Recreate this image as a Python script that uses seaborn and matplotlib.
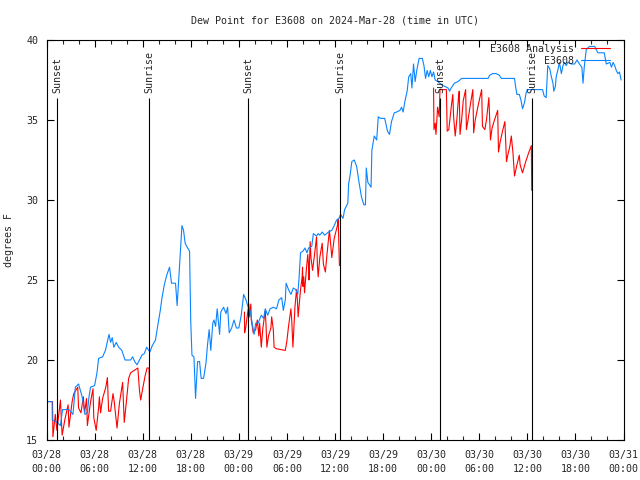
import numpy as np
import pandas as pd
import seaborn as sns
import matplotlib
matplotlib.use("Agg")
import matplotlib.pyplot as plt
import matplotlib.dates as mdates
from matplotlib.lines import Line2D

# hours after 2024-03-28 00:00 UTC, values in degrees F
obs_hours = [0.0, 0.7, 0.72, 1.33, 1.74, 2.0, 2.8, 3.3, 3.6, 4.0, 4.45, 4.8, 5.1, 5.3, 5.5, 6.0,
             6.3, 6.5, 7.0, 7.35, 7.8, 8.0, 8.2, 8.4, 8.7, 9.0, 9.4, 9.8, 10.5, 10.75, 11.0, 11.3,
             11.6, 11.9, 12.2, 12.5, 12.9, 13.2, 13.6, 13.9, 14.2, 14.4, 14.7, 15.0, 15.35, 15.6,
             16.1, 16.3, 16.5, 16.7, 16.9, 17.1, 17.3, 17.5, 17.85, 18.0, 18.15, 18.4, 18.6, 18.85,
             19.1, 19.3, 19.6, 19.9, 20.1, 20.3, 20.5, 20.75, 20.9, 21.1, 21.3, 21.6, 21.75, 22.1,
             22.4, 22.6, 22.8, 23.1, 23.4, 23.7, 24.0, 24.3, 24.6, 24.9, 25.1, 25.4, 25.6, 25.9,
             26.1, 26.4, 26.8, 27.1, 27.3, 27.6, 27.9, 28.3, 28.7, 29.0, 29.35, 29.55, 29.8, 29.9,
             30.2, 30.5, 30.8, 31.1, 31.35, 31.5, 31.7, 32.0, 32.25, 32.5, 32.7, 33.1, 33.3, 33.7,
             33.9, 34.1, 34.4, 34.7, 35.2, 35.6, 35.9, 36.2, 36.5, 36.7, 37.0, 37.2, 37.6, 37.7,
             37.9, 38.1, 38.4, 38.7, 39.0, 39.3, 39.6, 39.8, 39.9, 40.1, 40.5, 40.6, 40.9, 41.2,
             41.4, 41.7, 42.2, 42.55, 42.8, 43.05, 43.4, 43.7, 44.1, 44.3, 44.5, 44.7, 45.0, 45.2,
             45.45, 45.6, 45.8, 46.0, 46.2, 46.5, 46.9, 47.1, 47.3, 47.5, 47.7, 47.9, 48.1, 48.3,
             48.5, 48.85, 49.3, 49.7, 50.1, 50.3, 50.5, 50.9, 51.35, 51.8, 55.1, 55.3, 55.7, 56.1,
             56.5, 56.75, 58.4, 58.5, 58.7, 59.0, 59.2, 59.4, 59.65, 59.85, 60.0, 61.9, 62.1, 62.35,
             62.55, 62.8, 63.0, 63.2, 63.3, 63.5, 63.6, 63.8, 64.0, 64.25, 64.45, 64.65, 64.85,
             65.05, 65.5, 65.9, 66.2, 66.5, 66.8, 66.95, 67.1, 67.35, 67.75, 68.4, 68.6, 68.8, 69.6,
             69.85, 70.3, 70.5, 70.7, 70.9, 71.1, 71.3, 71.5, 71.7]
obs_dewpt = [17.4, 17.4, 16.25, 16.1, 15.9, 16.9, 16.9, 16.6, 18.3, 18.5, 17.7, 16.6, 16.7, 17.7,
             18.3, 18.4, 19.2, 20.1, 20.2, 20.6, 21.6, 21.1, 21.4, 20.8, 21.1, 20.8, 20.6, 20.0,
             20.0, 20.2, 19.9, 19.7, 20.0, 20.3, 20.4, 20.8, 20.5, 20.9, 21.25, 22.2, 23.1, 23.85,
             24.7, 25.3, 25.8, 24.8, 24.8, 23.4, 25.0, 26.7, 28.4, 28.1, 27.3, 27.1, 26.8, 22.4,
             20.3, 20.2, 17.6, 19.9, 19.9, 18.85, 18.85, 19.8, 21.0, 21.9, 20.6, 22.3, 22.5, 22.1,
             23.2, 21.6, 23.0, 23.3, 22.9, 23.3, 21.7, 22.0, 22.5, 22.0, 22.0, 22.8, 24.1, 23.75,
             23.4, 23.1, 22.5, 21.6, 22.3, 22.3, 22.8, 22.6, 23.2, 22.8, 23.2, 23.3, 23.2, 23.75,
             23.9, 23.1, 23.75, 24.8, 24.4, 24.1, 24.5, 24.4, 24.1, 25.0, 26.7, 26.8, 27.0, 26.7,
             27.0, 27.1, 27.9, 27.75, 27.9, 27.8, 28.0, 27.8, 28.0, 28.1, 28.4, 28.75, 28.85, 29.1,
             28.85, 29.4, 29.8, 31.0, 31.6, 32.4, 32.5, 32.1, 31.1, 30.2, 29.7, 29.7, 32.0, 31.1,
             30.8, 33.1, 34.0, 33.75, 35.2, 35.1, 35.1, 34.3, 34.1, 34.9, 35.45, 35.5, 35.6, 35.8,
             35.5, 36.1, 36.8, 37.7, 37.9, 37.0, 38.5, 37.4, 38.1, 38.85, 38.85, 38.4, 37.6, 38.1,
             37.7, 38.1, 37.7, 38.0, 37.5, 37.4, 37.2, 37.1, 37.0, 36.8, 37.0, 37.3, 37.4, 37.6,
             37.6, 37.8, 37.9, 37.9, 37.8, 37.6, 37.6, 37.2, 36.6, 36.6, 36.25, 35.7, 36.1, 36.7,
             36.9, 36.9, 36.5, 36.4, 38.4, 38.2, 37.7, 37.3, 36.8, 37.1, 37.7, 38.1, 38.6, 37.9,
             38.4, 38.6, 38.4, 38.6, 38.5, 38.5, 38.75, 38.5, 38.3, 37.3, 38.3, 39.4, 39.6, 39.6,
             39.4, 39.2, 39.2, 38.5, 38.6, 38.3, 38.6, 38.4, 38.1, 37.9, 38.0, 37.5]

# analysis, three night segments
ana1_hours = [0.0, 0.75, 0.8, 1.1, 1.3, 1.74, 1.95, 2.3, 2.7, 2.8, 3.2, 3.4, 3.9, 4.0, 4.3, 4.6,
              4.75, 5.0, 5.1, 5.5, 5.8, 5.9, 6.2, 6.5, 6.6, 6.75, 7.0, 7.4, 7.6, 7.75, 8.0, 8.3,
              8.45, 8.8, 9.1, 9.5, 9.7, 9.95, 10.25, 10.5, 11.4, 11.6, 11.75, 12.0, 12.3, 12.55,
              12.8, 12.85]
ana1_dewpt = [17.4, 17.4, 15.2, 16.6, 15.6, 17.5, 15.3, 16.3, 17.2, 15.8, 17.4, 17.9, 18.3, 17.0,
              16.7, 17.7, 16.7, 17.6, 15.9, 17.4, 18.2, 16.4, 15.6, 17.0, 17.7, 16.7, 17.6, 18.3,
              18.9, 16.8, 16.8, 17.9, 17.4, 15.75, 17.3, 18.6, 16.1, 17.3, 18.85, 19.2, 19.5, 18.1,
              17.5, 18.2, 19.0, 19.5, 19.5, 17.1]
ana2_hours = [24.7, 24.72, 24.85, 25.25, 25.3, 25.5, 25.55, 25.8, 26.1, 26.3, 26.5, 26.6, 26.8,
              27.0, 27.3, 27.4, 27.5, 27.7, 28.0, 28.1, 28.3, 28.4, 28.7, 29.8, 30.0, 30.2, 30.5,
              30.6, 30.75, 31.0, 31.2, 31.3, 31.4, 31.7, 31.9, 31.95, 32.0, 32.1, 32.2, 32.4, 32.6,
              32.7, 32.75, 32.9, 33.0, 33.2, 33.4, 33.7, 33.8, 33.9, 34.1, 34.4, 34.55, 34.8, 35.0,
              35.3, 35.45, 35.6, 35.9, 36.3, 36.4, 36.55]
ana2_dewpt = [23.0, 21.7, 22.0, 23.5, 22.7, 23.5, 22.5, 21.7, 21.9, 22.5, 21.5, 22.3, 20.8, 22.0,
              23.1, 22.1, 20.8, 21.5, 22.0, 22.7, 21.9, 20.8, 20.7, 20.6, 21.2, 22.1, 23.2, 22.5,
              20.8, 23.3, 24.4, 23.8, 22.7, 24.4, 25.2, 25.8, 24.6, 25.2, 24.2, 25.5, 26.6, 25.9,
              25.0, 27.4, 26.4, 25.6, 26.4, 27.7, 26.0, 25.2, 26.4, 27.3, 26.0, 25.5, 26.6, 28.1,
              27.3, 26.4, 27.6, 28.4, 28.8, 25.9]
ana3_hours = [48.3, 48.35, 48.5, 48.6, 48.8, 49.0, 49.1, 49.9, 50.0, 50.2, 50.5, 50.7, 50.8, 51.0,
              51.2, 51.4, 51.5, 51.6, 51.8, 52.0, 52.3, 52.4, 52.6, 52.9, 53.2, 53.3, 53.5, 53.9,
              54.3, 54.4, 54.7, 54.9, 55.2, 55.4, 55.6, 55.9, 56.3, 56.4, 56.6, 56.9, 57.2, 57.4,
              57.6, 57.8, 58.0, 58.2, 58.4, 58.7, 59.0, 59.1, 59.4, 59.8, 60.2, 60.5, 60.55]
ana3_dewpt = [37.0, 34.4, 34.8, 34.1, 35.8, 35.2, 36.9, 36.9, 34.3, 34.4, 35.8, 36.6, 35.2, 34.0,
              35.0, 36.35, 36.8, 34.1, 35.0, 36.2, 36.9, 34.4, 35.0, 36.0, 36.9, 34.2, 35.0, 36.0,
              36.9, 34.6, 34.4, 35.0, 36.4, 33.75, 34.5, 35.0, 35.6, 33.0, 33.6, 34.3, 34.9, 32.4,
              32.9, 33.3, 34.0, 33.0, 31.5, 32.2, 32.8, 32.2, 31.7, 32.4, 33.0, 33.4, 30.6]

sunset_times = ["2024-03-28 01:18", "2024-03-29 01:10", "2024-03-30 01:07"]
sunrise_times = ["2024-03-28 12:50", "2024-03-29 12:38", "2024-03-30 12:36"]

start = pd.Timestamp("2024-03-28 00:00")
obs = pd.DataFrame({"time": start + pd.to_timedelta(obs_hours, unit="h"), "dewpt": obs_dewpt})
segs = [(ana1_hours, ana1_dewpt), (ana2_hours, ana2_dewpt), (ana3_hours, ana3_dewpt)]
ana = pd.concat([pd.DataFrame({"time": start + pd.to_timedelta(h, unit="h"), "dewpt": v, "seg": i})
                 for i, (h, v) in enumerate(segs)], ignore_index=True)

RED = "#ff0000"
BLUE = "#0a84ff"
LW = 0.8
FS = 7.2

sns.set_style("white")
plt.rcParams["font.family"] = ["DejaVu Sans Mono"]
plt.rcParams["font.size"] = FS

fig = plt.figure(figsize=(6.4, 4.8), dpi=100)
ax = fig.add_axes([46.5 / 640, 40 / 480, 577 / 640, 400 / 480])

sns.lineplot(data=ana, x="time", y="dewpt", units="seg", estimator=None, color=RED,
             lw=LW, ax=ax, legend=False)
sns.lineplot(data=obs, x="time", y="dewpt", color=BLUE, lw=LW, ax=ax, legend=False)

for t in sunset_times:
    ax.vlines(pd.Timestamp(t), 15, 36.4, color="black", lw=LW)
    ax.text(pd.Timestamp(t), 36.7, "Sunset", rotation=90, ha="center", va="bottom", fontsize=FS)
for t in sunrise_times:
    ax.vlines(pd.Timestamp(t), 15, 36.4, color="black", lw=LW)
    ax.text(pd.Timestamp(t), 36.7, "Sunrise", rotation=90, ha="center", va="bottom", fontsize=FS)

ax.set_xlim(start, start + pd.Timedelta(hours=72))
ax.set_ylim(15, 40)
ax.set_yticks(np.arange(15, 41, 5))
ax.xaxis.set_major_locator(mdates.HourLocator(byhour=[0, 6, 12, 18]))
ax.xaxis.set_minor_locator(mdates.HourLocator(byhour=range(0, 24, 2)))
ax.xaxis.set_major_formatter(mdates.DateFormatter("%m/%d\n%H:%M"))
for lab in ax.get_xticklabels():
    lab.set_linespacing(1.5)
ax.tick_params(which="major", direction="in", length=5, width=0.8, top=True, right=True,
               labelsize=FS, color="black", bottom=True, left=True)
ax.tick_params(which="minor", direction="in", length=3, width=0.8, top=True, bottom=True)
ax.tick_params(axis="x", pad=7)
ax.tick_params(axis="y", pad=6)
for sp in ax.spines.values():
    sp.set_color("black")
    sp.set_linewidth(0.8)

ax.set_xlabel("")
ax.set_ylabel("degrees F", fontsize=FS, labelpad=9)
ax.set_title("Dew Point for E3608 on 2024-Mar-28 (time in UTC)", fontsize=FS, pad=12)

handles = [Line2D([], [], color=RED, lw=LW), Line2D([], [], color=BLUE, lw=LW)]
ax.legend(handles, ["E3608 Analysis", "E3608"], loc="upper right", bbox_to_anchor=(0.977, 0.99),
          markerfirst=False, frameon=False, borderpad=0, borderaxespad=0, handlelength=2.9,
          handletextpad=0.7, labelspacing=0.2, fontsize=FS)

fig.savefig("out.png", dpi=100)
